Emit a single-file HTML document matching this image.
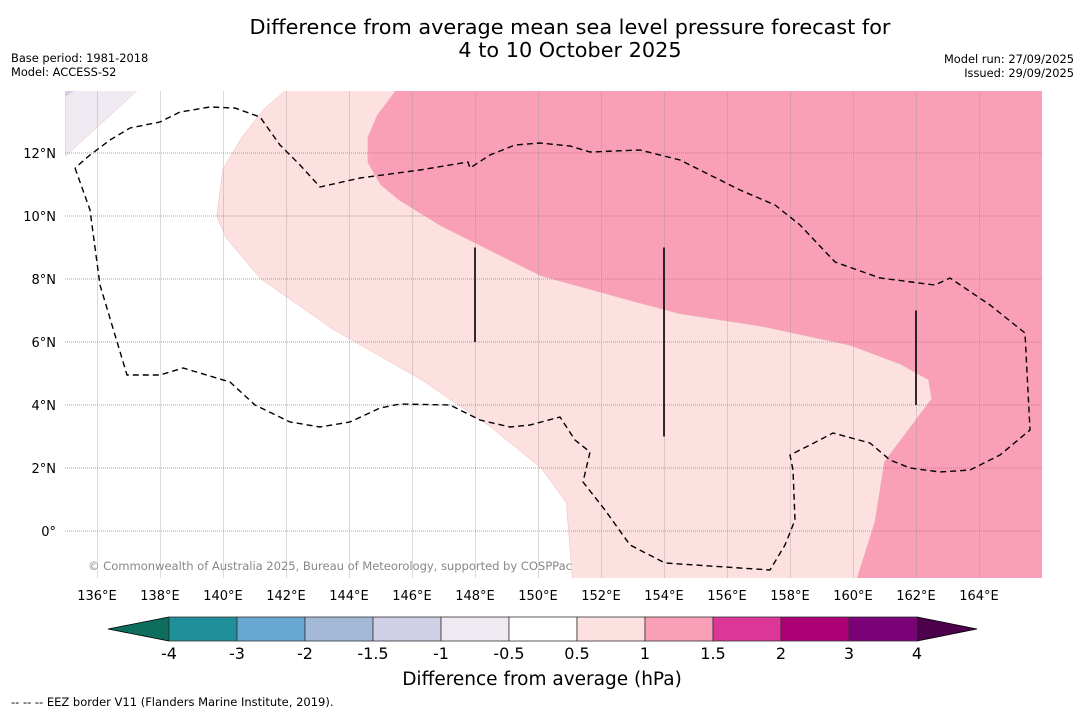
<!DOCTYPE html>
<html><head><meta charset="utf-8"><style>
body{margin:0;background:#fff;width:1085px;height:713px;overflow:hidden;font-family:"DejaVu Sans","Liberation Sans",sans-serif}
svg text{font-family:"DejaVu Sans","Liberation Sans",sans-serif}
</style></head><body>
<svg id="s" width="1085" height="713">
<text x="570" y="34" font-size="20.8" text-anchor="middle">Difference from average mean sea level pressure forecast for</text>
<text x="570" y="57" font-size="20.8" text-anchor="middle">4 to 10 October 2025</text>
<text x="11" y="62" font-size="11.4">Base period: 1981-2018</text>
<text x="11" y="76" font-size="11.4">Model: ACCESS-S2</text>
<text x="1074" y="63" font-size="11.4" text-anchor="end">Model run: 27/09/2025</text>
<text x="1074" y="77" font-size="11.4" text-anchor="end">Issued: 29/09/2025</text>
<defs><clipPath id="mc"><rect x="65" y="91" width="977" height="487"/></clipPath></defs>
<g id="map" clip-path="url(#mc)"></g>
<g id="ax"></g>
<g id="cb"></g>
<text x="542" y="685" font-size="18.5" text-anchor="middle">Difference from average (hPa)</text>
<text x="11" y="706" font-size="11.5">--  --  -- EEZ border V11 (Flanders Marine Institute, 2019).</text>
</svg>
<script>
const lonTicks=[136,138,140,142,144,146,148,150,152,154,156,158,160,162,164];
const latTicks=[0,2,4,6,8,10,12];
const cbLevels=[-4,-3,-2,-1.5,-1,-0.5,0.5,1,1.5,2,3,4];
const cbLabels=["-4","-3","-2","-1.5","-1","-0.5","0.5","1","1.5","2","3","4"];
const cbColors=["#1f8f99","#68a8d0","#a4b8d8","#cfd0e6","#efeaf2","#ffffff","#fde0e0","#f9a0b8","#dc3697","#ad0077","#7a0177"];
const lavender=[[135,14],[137.3,14],[135,11.9]];
const lavender2=[[135,14],[135.3,14],[135,13.8]];
const lightPink=[[142.,14],[141.3,13.4],[140.6,12.5],[140.0,11.5],[139.8,10.0],[140.1,9.3],[141.2,8.0],[143.5,6.4],[146.3,4.8],[148.5,3.3],[150.1,2.0],[150.9,0.9],[151.1,-1.6],[160.1,-1.6],[160.7,0.3],[161.0,2.2],[161.9,3.4],[162.5,4.2],[162.4,4.8],[161.5,5.3],[159.9,5.9],[157.1,6.5],[154.5,6.9],[153.0,7.3],[150.1,8.1],[146.9,9.7],[145.6,10.5],[145.0,11.0],[144.6,11.7],[144.6,12.5],[144.9,13.2],[145.5,14]];
const darkPink=[[145.5,14],[144.9,13.2],[144.6,12.5],[144.6,11.7],[145.0,11.0],[145.6,10.5],[146.9,9.7],[150.1,8.1],[153.0,7.3],[154.5,6.9],[157.1,6.5],[159.9,5.9],[161.5,5.3],[162.4,4.8],[162.5,4.2],[161.9,3.4],[161.0,2.2],[160.7,0.3],[160.1,-1.6],[166.1,-1.6],[166.1,14]];
const eez=[[75,168],[90,210],[100,285],[127,375],[160,375],[183,368],[230,382],[255,405],[290,422],[320,427],[350,422],[380,408],[400,404],[450,405],[480,420],[510,427],[530,425],[560,417],[575,440],[590,452],[583,482],[605,510],[630,545],[665,563],[770,570],[785,545],[795,520],[793,470],[790,455],[810,445],[833,433],[870,443],[890,460],[910,468],[940,472],[970,470],[1000,455],[1030,430],[1025,333],[990,305],[950,278],[935,285],[880,278],[835,262],[800,225],[775,205],[740,190],[710,175],[680,160],[640,150],[590,152],[570,146],[540,143],[515,145],[490,155],[470,168],[468,162],[420,170],[360,178],[320,187],[300,165],[280,145],[260,117],[235,108],[210,107],[180,112],[160,122],[130,128],[110,140],[90,155],[75,168]];
const bars=[[148,9],[148,6],[154,9],[154,3],[162,7],[162,4]];
const NS="http://www.w3.org/2000/svg";
function X(lon){return 97+(lon-136)*31.5}
function Y(lat){return 531-lat*31.5}
function mk(p,t,a){const e=document.createElementNS(NS,t);for(const k in a)e.setAttribute(k,a[k]);p.appendChild(e);return e}
const map=document.getElementById('map'),ax=document.getElementById('ax'),cb=document.getElementById('cb');
function poly(pts,fill,name){const e=mk(map,'polygon',{points:pts.map(p=>X(p[0])+','+Y(p[1])).join(' '),fill:fill,stroke:'#e8b0b0','stroke-width':0.4});

}
poly(lavender,'#efeaf2','contour-neg-0.5');
poly(lavender2,'#cfd0e6','contour-neg-1');
poly(lightPink,'#fde0e0','contour-0.5');
poly(darkPink,'#f9a0b8','contour-1');
lonTicks.forEach(l=>{const x=Math.round(X(l))+0.5;mk(map,'line',{x1:x,x2:x,y1:91,y2:578,stroke:'#999','stroke-width':0.5,'stroke-opacity':0.7});
const t=mk(ax,'text',{x:X(l),y:600,'font-size':13,'text-anchor':'middle'});t.textContent=l+'°E';

});
latTicks.forEach(l=>{const y=Y(l);mk(map,'line',{x1:65,x2:1042,y1:y,y2:y,stroke:'#888','stroke-width':0.8,'stroke-dasharray':'1,1'});
const t=mk(ax,'text',{x:56,y:y+5,'font-size':13,'text-anchor':'end'});t.textContent=l===0?'0°':l+'°N';

});
const ez=mk(map,'polyline',{points:eez.map(p=>p.join(',')).join(' '),fill:'none',stroke:'#000','stroke-width':1.4,'stroke-dasharray':'6,4'});


for(let i=0;i<bars.length;i+=2){const l=mk(map,'line',{x1:X(bars[i][0]),x2:X(bars[i+1][0]),y1:Y(bars[i][1]),y2:Y(bars[i+1][1]),stroke:'#000','stroke-width':1.6});

}
const ct=mk(map,'text',{x:88,y:570,'font-size':11.6,fill:'#888','textLength':484});ct.textContent='© Commonwealth of Australia 2025, Bureau of Meteorology, supported by COSPPac';


function CX(i){return 169+i*68}
const lt=mk(cb,'polygon',{points:'108,629 169,617 169,641',fill:'#0d6e5e',stroke:'#000','stroke-width':0.8});


const rt=mk(cb,'polygon',{points:'977,629 917,617 917,641',fill:'#4d004b',stroke:'#000','stroke-width':0.8});


cbColors.forEach((c,i)=>{const r=mk(cb,'rect',{x:CX(i),y:617,width:68,height:24,fill:c,stroke:'#333','stroke-width':0.8});

});
cbLabels.forEach((s,i)=>{const t=mk(cb,'text',{x:CX(i),y:659,'font-size':16,'text-anchor':'middle'});t.textContent=s;

});
</script>
</body></html>
